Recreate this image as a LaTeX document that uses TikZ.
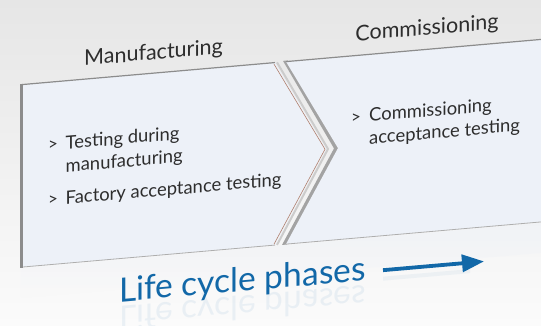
\documentclass[tikz,border=0pt]{standalone}
\usepackage{fontspec}
\setmainfont{Lato}
\usetikzlibrary{arrows.meta,fadings}
\definecolor{bgtop}{RGB}{230,230,230}
\definecolor{bgbot}{RGB}{251,251,251}
\definecolor{phasefill}{RGB}{237,241,248}
\definecolor{edgegray}{RGB}{140,140,140}
\definecolor{txt}{RGB}{45,45,45}
\definecolor{lcblue}{RGB}{18,104,168}
\definecolor{brownedge}{RGB}{176,128,110}
\begin{document}
\begin{tikzpicture}[x=1pt,y=1pt,
  title/.style={font=\fontsize{21.5}{24}\selectfont, text=txt, anchor=base, inner sep=0, transform shape},
  item/.style={font=\fontsize{18.4}{22}\selectfont, text=txt, anchor=base west, inner sep=0, transform shape},
  bullet/.style={font=\fontsize{17}{20}\selectfont, text=txt, anchor=base west, inner sep=0, transform shape},
  lcp/.style={font=\fontsize{33.5}{40}\selectfont, text=lcblue, anchor=base west, inner sep=0, transform shape},
]
\useasboundingbox (0,0) rectangle (541,-326);
\shade[top color=bgtop, bottom color=bgbot] (0,0) rectangle (541,-326);
\begin{scope}
\clip (0,0) rectangle (541,-326);
\begin{scope}[yslant=0.087]
  % faint reflection of the panels
  \fill[phasefill, opacity=0.5, path fading=south] (21,-270) rectangle (560,-300);
  % second panel: shadow along notch, then panel
  \fill[edgegray!80] (283,-85.5) -- (334,-177.5) -- (282,-269.5) -- (287,-269.5) -- (339,-177.5) -- (288,-85.5) -- cycle;
  \fill[phasefill] (286,-86.5) -- (560,-86.5) -- (560,-269) -- (286,-269) -- (338,-177.5) -- cycle;
  \draw[edgegray, line width=1.2pt] (286,-86.5) -- (560,-86.5);
  \draw[edgegray!70, line width=0.8pt] (286,-269) -- (560,-269);
  % first panel
  \fill[phasefill] (21,-86.5) -- (275,-86.5) -- (326,-177.5) -- (275,-269) -- (21,-269) -- cycle;
  \draw[edgegray, line width=1.2pt] (21,-86.5) -- (275,-86.5);
  \draw[edgegray!70, line width=0.8pt] (21,-269) -- (275,-269);
  \draw[gray!40, line width=2pt] (277,-86.5) -- (328,-177.5) -- (277,-269);
  \draw[brownedge, line width=0.6pt] (274,-88) -- (325,-177.5) -- (274,-268);
  \draw[edgegray, line width=3pt] (21.5,-85.5) -- (21.5,-270);
  % titles
  \node[title] (manu) at (153.5,-73) {Manufacturing};
  \node[title] (comm) at (427,-72) {Commissioning};
  % items
  \node[bullet] (b1) at (48,-155) {>};
  \node[item] (t1a) at (65.5,-155) {Testing during};
  \node[item] (t1b) at (65.5,-178) {manufacturing};
  \node[bullet] (b2) at (48,-210) {>};
  \node[item] (t2) at (65.5,-210) {Factory acceptance testing};
  \node[bullet] (b3) at (351,-154) {>};
  \node[item] (t3a) at (369,-154) {Commissioning};
  \node[item] (t3b) at (369,-176.5) {acceptance testing};
  % life cycle phases
  \node[lcp] (lcp) at (119,-312.5) {Life cycle phases};
  \node[lcp, yscale=-1, opacity=0.07] (lcpr) at (119,-317) {Life cycle phases};
  \coordinate (as) at (383,-303.5);
  \coordinate (ae) at (484,-303.5);
  \draw[lcblue, line width=3.8pt, -{Triangle[length=22pt,width=17pt]}] (as) -- (ae);
  \fill[lcblue, opacity=0.05] (383,-310) rectangle (470,-314);
\end{scope}
\end{scope}
\end{tikzpicture}
\end{document}
